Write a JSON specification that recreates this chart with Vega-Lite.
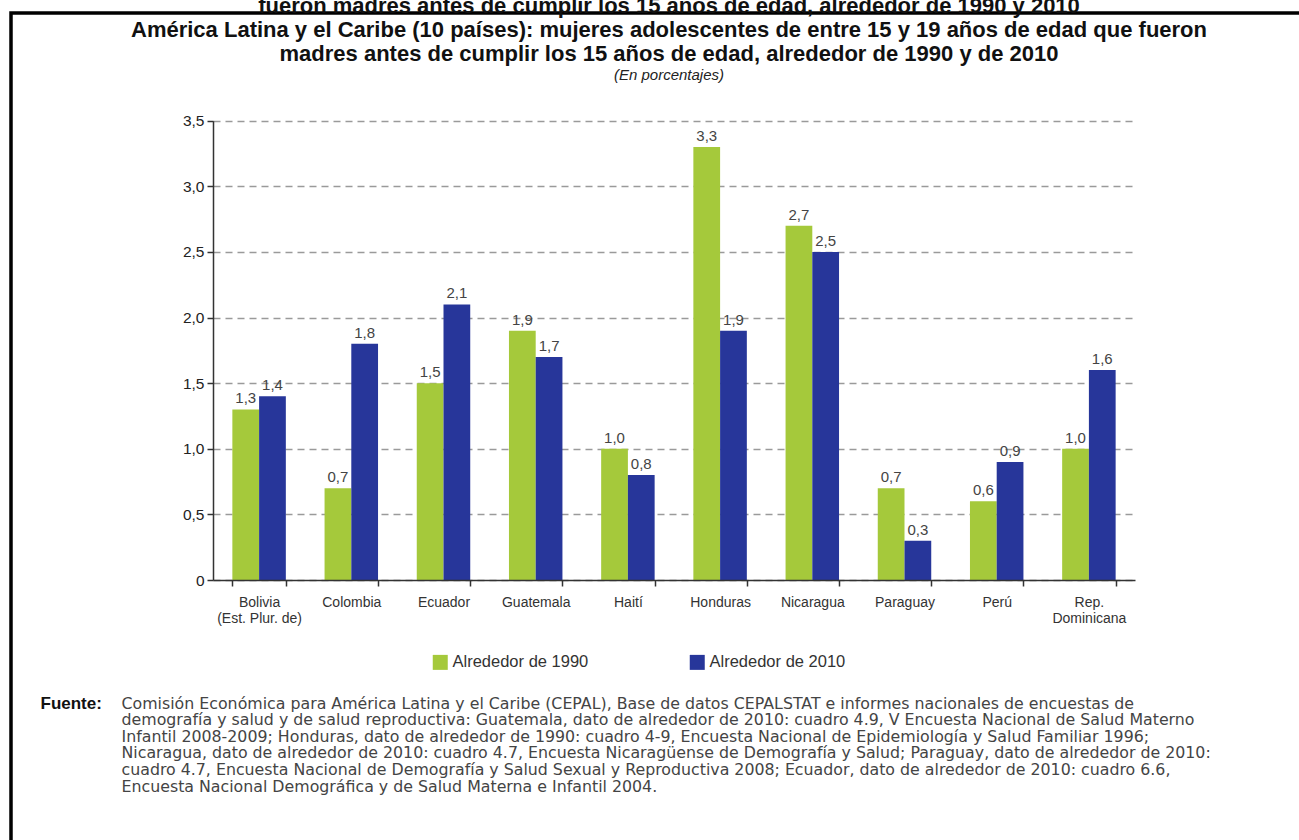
{
  "$schema": "https://vega.github.io/schema/vega-lite/v6.json",
  "width": 1296,
  "height": 837,
  "autosize": {"type": "none"},
  "padding": {"left": 11, "top": 13, "right": -8, "bottom": -10},
  "background": "white",
  "title": {
    "text": [
      "fueron madres antes de cumplir los 15 años de edad, alrededor de 1990 y 2010",
      "América Latina y el Caribe (10 países): mujeres adolescentes de entre 15 y 19 años de edad que fueron",
      "madres antes de cumplir los 15 años de edad, alrededor de 1990 y de 2010"
    ],
    "subtitle": "(En porcentajes)",
    "orient": "top",
    "anchor": "middle",
    "frame": "group",
    "offset": -71,
    "dx": 10,
    "font": "Liberation Sans",
    "fontSize": 22,
    "fontWeight": "bold",
    "color": "#111",
    "lineHeight": 24,
    "subtitleFont": "Liberation Sans",
    "subtitleFontSize": 15,
    "subtitleFontStyle": "italic",
    "subtitleColor": "#222",
    "subtitlePadding": 2
  },
  "data": {
    "values": [
      {"pais": "Bolivia (Est. Plur. de)", "serie": "Alrededor de 1990", "valor": 1.3},
      {"pais": "Bolivia (Est. Plur. de)", "serie": "Alrededor de 2010", "valor": 1.4},
      {"pais": "Colombia", "serie": "Alrededor de 1990", "valor": 0.7},
      {"pais": "Colombia", "serie": "Alrededor de 2010", "valor": 1.8},
      {"pais": "Ecuador", "serie": "Alrededor de 1990", "valor": 1.5},
      {"pais": "Ecuador", "serie": "Alrededor de 2010", "valor": 2.1},
      {"pais": "Guatemala", "serie": "Alrededor de 1990", "valor": 1.9},
      {"pais": "Guatemala", "serie": "Alrededor de 2010", "valor": 1.7},
      {"pais": "Haití", "serie": "Alrededor de 1990", "valor": 1.0},
      {"pais": "Haití", "serie": "Alrededor de 2010", "valor": 0.8},
      {"pais": "Honduras", "serie": "Alrededor de 1990", "valor": 3.3},
      {"pais": "Honduras", "serie": "Alrededor de 2010", "valor": 1.9},
      {"pais": "Nicaragua", "serie": "Alrededor de 1990", "valor": 2.7},
      {"pais": "Nicaragua", "serie": "Alrededor de 2010", "valor": 2.5},
      {"pais": "Paraguay", "serie": "Alrededor de 1990", "valor": 0.7},
      {"pais": "Paraguay", "serie": "Alrededor de 2010", "valor": 0.3},
      {"pais": "Perú", "serie": "Alrededor de 1990", "valor": 0.6},
      {"pais": "Perú", "serie": "Alrededor de 2010", "valor": 0.9},
      {"pais": "Rep. Dominicana", "serie": "Alrededor de 1990", "valor": 1.0},
      {"pais": "Rep. Dominicana", "serie": "Alrededor de 2010", "valor": 1.6}
    ]
  },
  "encoding": {
    "x": {
      "field": "pais",
      "type": "nominal",
      "sort": null,
      "scale": {"range": [202, 1124], "paddingInner": 0.42, "paddingOuter": 0.21},
      "axis": {
        "orient": "bottom",
        "offset": -270,
        "labelAngle": 0,
        "labelFontSize": 14,
        "labelColor": "#333",
        "labelLineHeight": 16,
        "labelPadding": 9,
        "labelExpr": "datum.value == 'Bolivia (Est. Plur. de)' ? ['Bolivia', '(Est. Plur. de)'] : datum.value == 'Rep. Dominicana' ? ['Rep.', 'Dominicana'] : datum.label",
        "tickBand": "extent",
        "tickSize": 6,
        "tickColor": "#333",
        "tickWidth": 1.5,
        "domainColor": "#333",
        "domainWidth": 1.5,
        "zindex": 1,
        "title": [
          "Comisión Económica para América Latina y el Caribe (CEPAL), Base de datos CEPALSTAT e informes nacionales de encuestas de",
          "demografía y salud y de salud reproductiva: Guatemala, dato de alrededor de 2010: cuadro 4.9, V Encuesta Nacional de Salud Materno",
          "Infantil 2008-2009; Honduras, dato de alrededor de 1990: cuadro 4-9, Encuesta Nacional de Epidemiología y Salud Familiar 1996;",
          "Nicaragua, dato de alrededor de 2010: cuadro 4.7, Encuesta Nicaragüense de Demografía y Salud; Paraguay, dato de alrededor de 2010:",
          "cuadro 4.7, Encuesta Nacional de Demografía y Salud Sexual y Reproductiva 2008; Ecuador, dato de alrededor de 2010: cuadro 6.6,",
          "Encuesta Nacional Demográfica y de Salud Materna e Infantil 2004."
        ],
        "titleX": 110,
        "titleY": 128,
        "titleAlign": "left",
        "titleAnchor": "start",
        "titleBaseline": "alphabetic",
        "titleFont": "DejaVu Sans",
        "titleFontSize": 15.8,
        "titleFontWeight": "normal",
        "titleColor": "#444",
        "titleLineHeight": 16.6
      }
    }
  },
  "layer": [
    {
      "mark": {"type": "bar"},
      "encoding": {
        "xOffset": {"field": "serie", "type": "nominal"},
        "y": {
          "field": "valor",
          "type": "quantitative",
          "scale": {"domain": [0, 3.5], "range": [567, 107.7], "nice": false},
          "axis": {
            "orient": "left",
            "offset": -202,
            "values": [0, 0.5, 1, 1.5, 2, 2.5, 3, 3.5],
            "format": ".1f",
            "labelExpr": "datum.value == 0 ? '0' : datum.label",
            "labelFontSize": 15.5,
            "labelColor": "#222",
            "labelPadding": 3,
            "tickSize": 6,
            "tickColor": "#333",
            "tickWidth": 1.5,
            "domainColor": "#333",
            "domainWidth": 1.5,
            "grid": true,
            "gridColor": "#9a9a9a",
            "gridWidth": 1.3,
            "gridDash": [7, 5],
            "title": "Fuente:",
            "titleAngle": 0,
            "titleX": -173,
            "titleY": 695,
            "titleAlign": "left",
            "titleBaseline": "alphabetic",
            "titleFont": "Liberation Sans",
            "titleFontSize": 17,
            "titleFontWeight": "bold",
            "titleColor": "#111"
          }
        },
        "color": {
          "field": "serie",
          "type": "nominal",
          "scale": {"domain": ["Alrededor de 1990", "Alrededor de 2010"], "range": ["#a5c93b", "#27369a"]},
          "legend": {
            "orient": "none",
            "legendX": 421,
            "legendY": 641,
            "direction": "horizontal",
            "title": null,
            "symbolType": "square",
            "symbolSize": 225,
            "symbolStrokeWidth": 0,
            "symbolOpacity": 1,
            "labelFontSize": 16.5,
            "labelColor": "#333",
            "labelOffset": 4,
            "columnPadding": 100,
            "padding": 0
          }
        }
      }
    },
    {
      "mark": {"type": "text", "baseline": "bottom", "dy": -3, "fontSize": 15, "color": "#444"},
      "encoding": {
        "xOffset": {"field": "serie", "type": "nominal"},
        "y": {"field": "valor", "type": "quantitative"},
        "text": {"field": "valor", "type": "quantitative", "format": ".1f"}
      }
    }
  ],
  "config": {
    "font": "Liberation Sans",
    "locale": {"number": {"decimal": ",", "thousands": ".", "grouping": [3], "currency": ["", " €"]}},
    "view": {"stroke": "#000", "strokeWidth": 3.5}
  }
}
